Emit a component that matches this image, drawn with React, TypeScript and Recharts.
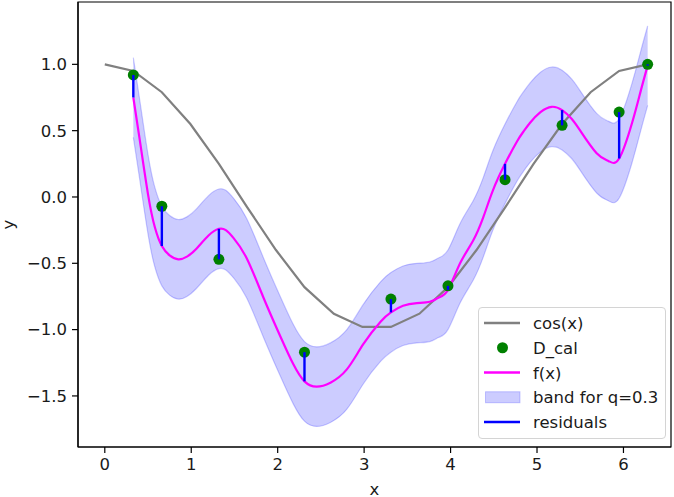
import React from "react";
import {
  ComposedChart,
  Line,
  Area,
  Scatter,
  XAxis,
  YAxis,
  ReferenceArea,
  Legend,
} from "recharts";

const FONT = '"DejaVu Sans", Verdana, sans-serif';
const FS = 16.5;

// cos(x) reference curve, sampled on a coarse grid
const cosX = [0, 0.33, 0.66, 0.99, 1.32, 1.65, 1.98, 2.31, 2.65, 2.98, 3.31, 3.64, 3.97, 4.3, 4.63, 4.96, 5.29, 5.62, 5.95, 6.28];
const cosY = [1.0, 0.95, 0.79, 0.55, 0.25, -0.08, -0.4, -0.68, -0.88, -0.98, -0.98, -0.88, -0.68, -0.4, -0.08, 0.25, 0.55, 0.79, 0.95, 1.0];

// fitted curve f(x)
const fX = [0.33, 0.4, 0.5, 0.58, 0.66, 0.75, 0.85, 0.95, 1.06, 1.2, 1.32, 1.4, 1.49, 1.64, 1.83, 2.03, 2.18, 2.31, 2.45, 2.61, 2.8, 2.99, 3.19, 3.31, 3.45, 3.61, 3.76, 3.86, 3.97, 4.11, 4.26, 4.38, 4.49, 4.63, 4.77, 4.84, 4.92, 5.04, 5.17, 5.29, 5.4, 5.5, 5.69, 5.83, 5.95, 6.1, 6.2, 6.28];
const fY = [0.75, 0.45, 0.02, -0.23, -0.37, -0.44, -0.47, -0.45, -0.39, -0.29, -0.24, -0.25, -0.31, -0.46, -0.75, -1.05, -1.26, -1.39, -1.43, -1.4, -1.3, -1.11, -0.94, -0.87, -0.82, -0.8, -0.79, -0.76, -0.7, -0.5, -0.33, -0.15, 0.05, 0.25, 0.42, 0.49, 0.56, 0.64, 0.68, 0.655, 0.59, 0.5, 0.33, 0.27, 0.29, 0.56, 0.8, 0.99];

const q = 0.3;

// calibration points D_cal
const calX = [0.33, 0.66, 1.32, 2.31, 3.31, 3.97, 4.63, 5.29, 5.95, 6.28];
const calY = [0.92, -0.07, -0.47, -1.17, -0.77, -0.67, 0.13, 0.54, 0.64, 1.0];

const xTicks = [0, 1, 2, 3, 4, 5, 6];
const yTicks = [-1.5, -1, -0.5, 0, 0.5, 1];
const xDomain: [number, number] = [-0.31, 6.55];
const yDomain: [number, number] = [-1.885, 1.47];

const rowMap = new Map<number, any>();
const rowAt = (x: number) => {
  if (!rowMap.has(x)) rowMap.set(x, { x });
  return rowMap.get(x);
};
cosX.forEach((x, i) => (rowAt(x).cos = cosY[i]));
fX.forEach((x, i) => {
  const r = rowAt(x);
  r.f = fY[i];
  r.band = [fY[i] - q, fY[i] + q];
});
const rows = [...rowMap.values()].sort((a, b) => a.x - b.x);

const calData = calX.map((x, i) => ({ x, y: calY[i] }));
const residuals = calX.map((x, i) => [
  { x, y: calY[i] },
  { x, y: fY[fX.indexOf(x)] },
]);

const legendItems = [
  { label: "cos(x)", kind: "line", color: "gray" },
  { label: "D_cal", kind: "dot", color: "green" },
  { label: "f(x)", kind: "line", color: "magenta" },
  { label: "band for q=0.3", kind: "patch", color: "blue" },
  { label: "residuals", kind: "line", color: "blue" },
];

function LegendBox() {
  return (
    <div
      style={{
        width: 188,
        height: 132,
        boxSizing: "border-box",
        border: "1px solid #d4d4d4",
        borderRadius: 4,
        background: "rgba(255,255,255,0.8)",
      }}
    >
      <svg width={188} height={132} style={{ display: "block", marginTop: -1, marginLeft: -1 }}>
        {legendItems.map((it, i) => {
          const cy = 16 + i * 24.75;
          return (
            <g key={it.label}>
              {it.kind === "line" && (
                <line x1={6} x2={42} y1={cy} y2={cy} stroke={it.color} strokeWidth={2.3} />
              )}
              {it.kind === "dot" && <circle cx={24.5} cy={cy} r={5.5} fill={it.color} />}
              {it.kind === "patch" && (
                <rect
                  x={7.5}
                  y={cy - 5.5}
                  width={34.5}
                  height={11}
                  fill="blue"
                  fillOpacity={0.2}
                  stroke="blue"
                  strokeOpacity={0.2}
                />
              )}
              <text x={55} y={cy + 6} fontSize={FS} fontFamily={FONT} fill="#1a1a1a">
                {it.label}
              </text>
            </g>
          );
        })}
      </svg>
    </div>
  );
}

const fmtY = (v: number) => v.toFixed(1).replace("-", "\u2212");

export default function App() {
  return (
    <div style={{ position: "absolute", left: 0, top: 0, width: 674, height: 497, background: "#fff" }}>
      <ComposedChart
        width={674}
        height={497}
        data={rows}
        margin={{ top: 2, right: 3, left: 0, bottom: 0 }}
      >
        <XAxis
          dataKey="x"
          type="number"
          domain={xDomain}
          allowDataOverflow
          ticks={xTicks}
          height={50}
          tickSize={6}
          tickMargin={5}
          tick={{ fill: "#1a1a1a", fontSize: FS, fontFamily: FONT }}
          tickLine={{ stroke: "#000", strokeWidth: 1.2 }}
          axisLine={{ stroke: "#000", strokeWidth: 1.2 }}
          label={{
            content: (p: any) => {
              const vb = p.viewBox || { x: 78, y: 447, width: 593 };
              return (
                <text x={vb.x + vb.width / 2} y={vb.y + 47.5} textAnchor="middle" fontSize={FS} fontFamily={FONT} fill="#1a1a1a">
                  x
                </text>
              );
            },
          }}
        />
        <YAxis
          type="number"
          domain={yDomain}
          allowDataOverflow
          ticks={yTicks}
          width={78}
          tickSize={6}
          tickMargin={5}
          tickFormatter={fmtY}
          tick={{ fill: "#1a1a1a", fontSize: FS, fontFamily: FONT }}
          tickLine={{ stroke: "#000", strokeWidth: 1.2 }}
          axisLine={{ stroke: "#000", strokeWidth: 1.2 }}
          label={{
            content: (p: any) => {
              const vb = p.viewBox || { x: 0, y: 2, height: 445 };
              const lx = vb.x + 13.5;
              const ly = vb.y + vb.height / 2;
              return (
                <text x={lx} y={ly} transform={`rotate(-90 ${lx} ${ly})`} textAnchor="middle" fontSize={FS} fontFamily={FONT} fill="#1a1a1a">
                  y
                </text>
              );
            },
          }}
        />
        <Area
          dataKey="band"
          type="natural"
          connectNulls
          fill="blue"
          fillOpacity={0.2}
          stroke="blue"
          strokeOpacity={0.2}
          strokeWidth={1.2}
          isAnimationActive={false}
          legendType="none"
        />
        <Line
          dataKey="cos"
          type="linear"
          connectNulls
          stroke="gray"
          strokeWidth={2.2}
          dot={false}
          activeDot={false}
          isAnimationActive={false}
        />
        <Line
          dataKey="f"
          type="natural"
          connectNulls
          stroke="magenta"
          strokeWidth={2.2}
          dot={false}
          activeDot={false}
          isAnimationActive={false}
        />
        <Scatter
          data={calData}
          dataKey="y"
          fill="green"
          shape={(p: any) => <circle cx={p.cx} cy={p.cy} r={5.5} fill="green" />}
          isAnimationActive={false}
        />
        {residuals.map((seg, i) => (
          <Scatter
            key={i}
            data={seg}
            dataKey="y"
            line={{ stroke: "blue", strokeWidth: 2.4 }}
            shape={() => <g />}
            isAnimationActive={false}
          />
        ))}
        <ReferenceArea
          x1={xDomain[0]}
          x2={xDomain[1]}
          y1={yDomain[0]}
          y2={yDomain[1]}
          fill="none"
          stroke="#000"
          strokeWidth={1.2}
          ifOverflow="visible"
        />
        <Legend
          layout="horizontal"
          verticalAlign="middle"
          align="center"
          wrapperStyle={{ left: 478, top: 307, width: 188, height: 132 }}
          content={() => <LegendBox />}
        />
      </ComposedChart>
    </div>
  );
}
